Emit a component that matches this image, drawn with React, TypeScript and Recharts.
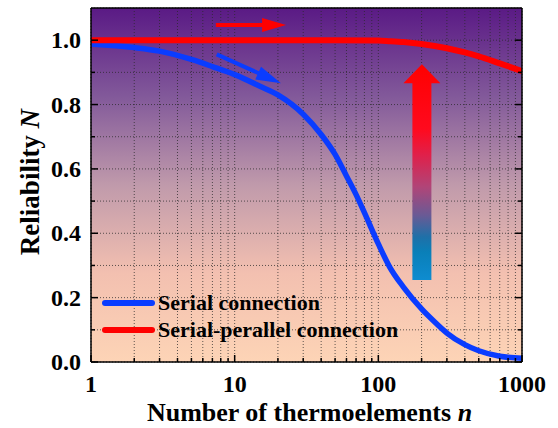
import React from "react";
import {
  ComposedChart,
  Line,
  XAxis,
  YAxis,
  CartesianGrid,
  ReferenceLine,
  Legend,
} from "recharts";

// thermoelement counts and reliability readings
const serialN = [1, 2, 3, 5, 7, 10, 15, 20, 30, 40, 50, 60, 70, 80, 100, 120, 150, 200, 250, 300, 400, 500, 700, 1000];
const serialR = [0.988, 0.977, 0.966, 0.94, 0.918, 0.893, 0.857, 0.83, 0.77, 0.707, 0.645, 0.578, 0.52, 0.464, 0.367, 0.295, 0.232, 0.165, 0.122, 0.09, 0.054, 0.035, 0.018, 0.012];

const parallelN = [1, 10, 50, 100, 120, 150, 200, 300, 400, 500, 700, 1000];
const parallelR = [1, 1, 1, 0.999, 0.997, 0.994, 0.988, 0.975, 0.962, 0.95, 0.928, 0.904];

const xMajor = [1, 10, 100, 1000];
const xTicks = [1, 2, 3, 4, 5, 6, 7, 8, 9, 10, 20, 30, 40, 50, 60, 70, 80, 90, 100, 200, 300, 400, 500, 600, 700, 800, 900, 1000];
const yTicks = [0, 0.1, 0.2, 0.3, 0.4, 0.5, 0.6, 0.7, 0.8, 0.9, 1.0];

// annotation arrows, in data units (tail, tip)
const arrowFlat = [{ x: 7.4, y: 1.047 }, { x: 22.8, y: 1.047 }];
const arrowDrop = [{ x: 7.5, y: 0.956 }, { x: 21, y: 0.866 }];
const arrowGain = [{ x: 201, y: 0.255 }, { x: 201, y: 0.925 }];

const serialData = serialN.map((n, i) => ({ n, v: serialR[i] }));
const parallelData = parallelN.map((n, i) => ({ n, v: parallelR[i] }));

const FONT = "'Liberation Serif', 'Times New Roman', serif";
const BLUE = "#0a3cff";
const RED = "#ff0000";

const isMajorY = (v: number) => Math.round(v * 10) % 2 === 0;

function arrowPoints(x1: number, y1: number, x2: number, y2: number, shaft: number, headLen: number, headW: number) {
  const len = Math.hypot(x2 - x1, y2 - y1);
  const ux = (x2 - x1) / len;
  const uy = (y2 - y1) / len;
  const px = -uy;
  const py = ux;
  const bx = x2 - ux * headLen;
  const by = y2 - uy * headLen;
  const pts = [
    [x1 + (px * shaft) / 2, y1 + (py * shaft) / 2],
    [bx + (px * shaft) / 2, by + (py * shaft) / 2],
    [bx + (px * headW) / 2, by + (py * headW) / 2],
    [x2, y2],
    [bx - (px * headW) / 2, by - (py * headW) / 2],
    [bx - (px * shaft) / 2, by - (py * shaft) / 2],
    [x1 - (px * shaft) / 2, y1 - (py * shaft) / 2],
  ];
  return pts.map((p) => p.join(",")).join(" ");
}

const arrowShape = (fill: string, shaft: number, headLen: number, headW: number) => (p: any) => (
  <polygon points={arrowPoints(p.x1, p.y1, p.x2, p.y2, shaft, headLen, headW)} fill={fill} />
);

const BottomTick = (p: any) => {
  const major = xMajor.includes(p.payload.value);
  return (
    <g>
      <line x1={p.x} x2={p.x} y1={p.y} y2={p.y - (major ? 7 : 4)} stroke="#000" strokeWidth={1.5} />
      {major && (
        <text x={p.x} y={p.y + 30} textAnchor="middle" fontFamily={FONT} fontWeight="bold" fontSize={24} fill="#000">
          {p.payload.value}
        </text>
      )}
    </g>
  );
};

const TopTick = (p: any) => {
  const major = xMajor.includes(p.payload.value);
  return <line x1={p.x} x2={p.x} y1={p.y} y2={p.y + (major ? 7 : 4)} stroke="#000" strokeWidth={1.5} />;
};

const LeftTick = (p: any) => {
  const major = isMajorY(p.payload.value);
  return (
    <g>
      <line x1={p.x} x2={p.x + (major ? 7 : 4)} y1={p.y} y2={p.y} stroke="#000" strokeWidth={1.5} />
      {major && (
        <text x={p.x - 10} y={p.y + 8} textAnchor="end" fontFamily={FONT} fontWeight="bold" fontSize={24} fill="#000">
          {p.payload.value.toFixed(1)}
        </text>
      )}
    </g>
  );
};

const RightTick = (p: any) => {
  const major = isMajorY(p.payload.value);
  return <line x1={p.x} x2={p.x - (major ? 7 : 4)} y1={p.y} y2={p.y} stroke="#000" strokeWidth={1.5} />;
};

const XTitle = (p: any) => {
  const vb = p.viewBox;
  return (
    <text x={vb.x + vb.width / 2 + 3} y={vb.y + 59} textAnchor="middle" fontFamily={FONT} fontWeight="bold" fontSize={26} fill="#000">
      Number of thermoelements <tspan fontStyle="italic">n</tspan>
    </text>
  );
};

const YTitle = (p: any) => {
  const vb = p.viewBox;
  const cx = 39;
  const cy = vb.y + vb.height / 2 - 3;
  return (
    <text x={cx} y={cy} transform={`rotate(-90 ${cx} ${cy})`} textAnchor="middle" fontFamily={FONT} fontWeight="bold" fontSize={27} fill="#000">
      Reliability <tspan fontStyle="italic">N</tspan>
    </text>
  );
};

const LegendBox = (p: any) => (
  <div>
    {(p.payload || []).map((e: any) => (
      <div key={e.value} style={{ display: "flex", alignItems: "center", height: 27 }}>
        <div style={{ width: 53, height: 6, borderRadius: 3, background: e.color, marginRight: 3 }} />
        <span style={{ fontFamily: FONT, fontWeight: "bold", fontSize: 22, lineHeight: "27px", color: "#000" }}>{e.value}</span>
      </div>
    ))}
  </div>
);

export default function App() {
  return (
    <div style={{ position: "absolute", left: 0, top: 0, background: "#fff" }}>
      <ComposedChart width={558} height={428} margin={{ top: 7, right: 35, bottom: 65, left: 90 }}>
        <defs>
          <linearGradient id="bgGrad" x1="0" y1="0" x2="0" y2="1">
            <stop offset="0" stopColor="#5a1a85" />
            <stop offset="0.25" stopColor="#82599a" />
            <stop offset="0.5" stopColor="#c09aab" />
            <stop offset="0.75" stopColor="#f3c0b0" />
            <stop offset="1" stopColor="#fdd4b6" />
          </linearGradient>
          <linearGradient id="gainGrad" x1="0" y1="0" x2="0" y2="1">
            <stop offset="0" stopColor="#ff0000" />
            <stop offset="0.3" stopColor="#ff0a1e" />
            <stop offset="0.42" stopColor="#e0204a" />
            <stop offset="0.57" stopColor="#b04578" />
            <stop offset="0.7" stopColor="#6a5a95" />
            <stop offset="0.8" stopColor="#1f70a8" />
            <stop offset="0.87" stopColor="#0a7fb8" />
            <stop offset="1" stopColor="#0e8cd0" />
          </linearGradient>
        </defs>
        <CartesianGrid
          xAxisId="b"
          yAxisId="l"
          fill="url(#bgGrad)"
          fillOpacity={1}
          stroke="#2a2a2a"
          strokeOpacity={0.75}
          strokeDasharray="1 2"
        />
        <XAxis
          xAxisId="b"
          dataKey="n"
          type="number"
          scale="log"
          domain={[1, 1000]}
          allowDataOverflow
          ticks={xTicks}
          interval={0}
          height={1}
          tickSize={0}
          tickMargin={0}
          tickLine={false}
          axisLine={{ stroke: "#000", strokeWidth: 1.5 }}
          tick={BottomTick}
          label={{ content: XTitle }}
        />
        <XAxis
          xAxisId="t"
          orientation="top"
          type="number"
          scale="log"
          domain={[1, 1000]}
          allowDataOverflow
          ticks={xTicks}
          interval={0}
          height={1}
          tickSize={0}
          tickMargin={0}
          tickLine={false}
          axisLine={{ stroke: "#000", strokeWidth: 1.5 }}
          tick={TopTick}
        />
        <YAxis
          yAxisId="l"
          type="number"
          domain={[0, 1.1]}
          allowDataOverflow
          ticks={yTicks}
          interval={0}
          width={1}
          tickSize={0}
          tickMargin={0}
          tickLine={false}
          axisLine={{ stroke: "#000", strokeWidth: 1.5 }}
          tick={LeftTick}
          label={{ content: YTitle }}
        />
        <YAxis
          yAxisId="r"
          orientation="right"
          type="number"
          domain={[0, 1.1]}
          allowDataOverflow
          ticks={yTicks}
          interval={0}
          width={1}
          tickSize={0}
          tickMargin={0}
          tickLine={false}
          axisLine={{ stroke: "#000", strokeWidth: 1.5 }}
          tick={RightTick}
        />
        <Line
          xAxisId="b"
          yAxisId="l"
          data={serialData}
          dataKey="v"
          name="Serial connection"
          type="monotone"
          stroke={BLUE}
          strokeWidth={5.5}
          dot={false}
          isAnimationActive={false}
        />
        <Line
          xAxisId="b"
          yAxisId="l"
          data={parallelData}
          dataKey="v"
          name="Serial-perallel connection"
          type="monotone"
          stroke={RED}
          strokeWidth={6}
          dot={false}
          isAnimationActive={false}
        />
        <ReferenceLine xAxisId="b" yAxisId="l" segment={arrowFlat} shape={arrowShape(RED, 4, 24, 14)} />
        <ReferenceLine xAxisId="b" yAxisId="l" segment={arrowDrop} shape={arrowShape(BLUE, 4, 25, 14)} />
        <ReferenceLine xAxisId="b" yAxisId="l" segment={arrowGain} shape={arrowShape("url(#gainGrad)", 19, 19, 37)} />
        <Legend
          layout="vertical"
          align="center"
          verticalAlign="middle"
          content={LegendBox}
          wrapperStyle={{ position: "absolute", left: 102, top: 289, width: "auto" }}
        />
      </ComposedChart>
    </div>
  );
}
